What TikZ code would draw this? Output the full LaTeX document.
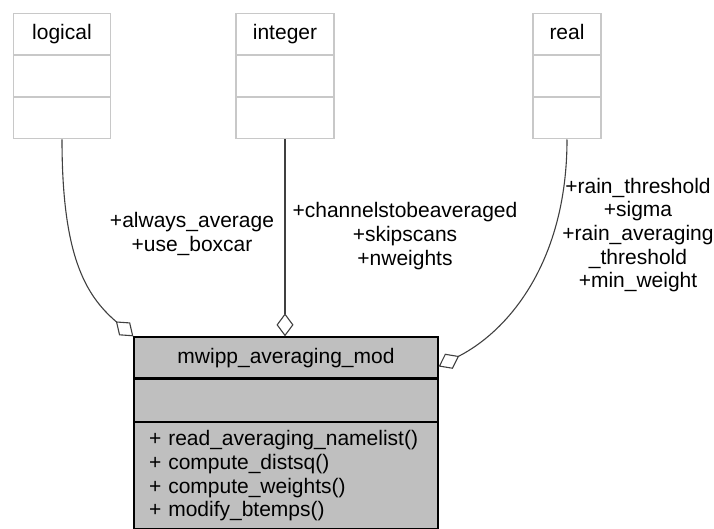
\documentclass[tikz,border=0pt]{standalone}
\usepackage{fontspec}
\setmainfont{Liberation Sans}
\usetikzlibrary{arrows.meta}
\definecolor{boxgray}{HTML}{BFBFBF}
\definecolor{linegray}{HTML}{404040}
\definecolor{cellline}{HTML}{C8C8C8}

\begin{document}
\begin{tikzpicture}
  [x=1pt,y=-1pt,
   every node/.style={font=\fontsize{21}{23.6}\selectfont,inner sep=0pt},
   cell/.style={draw=cellline,line width=1.2pt,fill=white,minimum height=41pt,
     text height=15pt,text depth=4pt},
   modcell/.style={draw=black,line width=1.3pt,fill=boxgray,minimum width=304pt},
   agg/.style={draw=linegray,line width=1.1pt,-{Diamond[open,length=23pt,width=17pt]}},
   lbl/.style={align=center}]
\clip (0,0) rectangle (714,529);
\foreach \name/\x/\w in {logical/62/97,integer/285/98,real/567/68} {
  \node[cell,minimum width=\w pt] (\name1) at (\x,34) {\name};
  \node[cell,minimum width=\w pt,anchor=north] (\name2) at (\name1.south) {};
  \node[cell,minimum width=\w pt,anchor=north] (\name3) at (\name2.south) {};
}
\node[modcell,minimum height=41pt,text height=15pt,text depth=4pt]
  (mod1) at (286,357.5) {mwipp\_averaging\_mod};
\node[modcell,minimum height=42pt,anchor=north] (mod2) at (mod1.south) {};
\node[modcell,anchor=north,align=left,text width=274pt,inner xsep=15pt,inner ysep=8pt]
  (mod3) at (mod2.south)
  {+ read\_averaging\_namelist()\\+ compute\_distsq()\\+ compute\_weights()\\+ modify\_btemps()};
\node[lbl] (lbllogical) at (192,234) {+always\_average\\+use\_boxcar};
\node[lbl] (lblinteger) at (405,236) {+channelstobeaveraged\\+skipscans\\+nweights};
\node[lbl] (lblreal) at (638,235)
  {+rain\_threshold\\+sigma\\+rain\_averaging\\\_threshold\\+min\_weight};
\draw[agg] (logical3.south) .. controls (62,255) and (85,295) .. (mod1.north west);
\draw[agg] (integer3.south) -- (integer3.south |- mod1.north);
\draw[agg] (real3.south) .. controls (567,260) and (510,330) .. ([yshift=-9pt]mod1.east);
\end{tikzpicture}
\end{document}
